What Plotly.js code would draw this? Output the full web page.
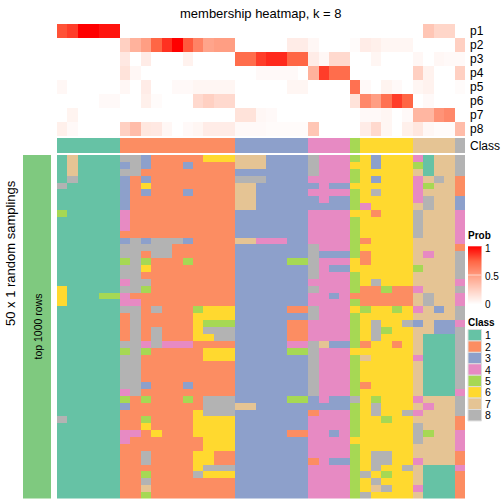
<!DOCTYPE html>
<html><head><meta charset="utf-8">
<script src="https://cdn.plot.ly/plotly-3.0.1.min.js"></script>
<style>html,body{margin:0;padding:0;background:#fff;}#chart{width:504px;height:504px;}</style>
</head><body><div id="chart"></div>
<script>
// ---- data ----
const probLabels = ['p1','p2','p3','p4','p5','p6','p7','p8'];
const p1 = [0.8,0.85,1,1,0.95,0.95, 0,0,0,0,0,0,0,0,0,0,0, 0,0,0,0,0,0,0, 0,0,0,0, 0, 0,0,0,0,0, 0,0.3,0.22,0.22, 0];
const p2 = [0,0,0,0,0,0, 0.25,0.4,0.5,0.75,0.88,1,0.78,0.62,0.47,0.5,0.5, 0,0,0,0,0,0.1,0.1, 0.04,0,0,0, 0.02, 0.1,0.08,0.05,0.05,0.05, 0,0,0,0, 0.25];
const p3 = [0,0,0,0,0,0, 0.12,0,0.1,0,0,0,0.07,0,0,0,0, 0.72,0.72,0.85,0.9,0.9,0.75,0.75, 0.1,0.04,0.2,0.2, 0, 0,0.05,0,0,0, 0.04,0,0.04,0.03, 0.03];
const p4 = [0,0,0,0,0,0, 0.15,0.04,0,0,0,0,0,0,0,0,0, 0,0,0.03,0.03,0.03,0.03,0, 0.4,0.85,0.72,0.72, 0, 0,0,0,0,0, 0.25,0.07,0,0, 0.25];
const p5 = [0.04,0,0,0,0,0, 0.04,0,0.1,0,0,0.03,0.03,0.05,0.05,0.05,0.05, 0,0,0,0,0,0.05,0.05, 0,0,0,0, 0.7, 0.03,0,0.06,0.03,0, 0.05,0.07,0,0, 0.02];
const p6 = [0,0,0,0,0.03,0.03, 0,0,0.08,0.02,0,0,0,0.2,0.25,0.2,0.2, 0,0,0,0,0,0,0, 0,0,0,0, 0.15, 0.6,0.5,0.7,0.85,0.75, 0,0.03,0,0, 0];
const p7 = [0,0.06,0,0,0,0, 0,0,0,0,0,0,0,0,0,0,0, 0.15,0.15,0.04,0.03,0,0,0, 0,0,0,0, 0, 0.03,0.03,0.05,0,0.03, 0.38,0.38,0.55,0.6, 0];
const p8 = [0.08,0.03,0,0,0,0, 0.25,0.35,0.13,0.12,0.04,0,0.03,0.05,0.1,0.1,0.1, 0.03,0.03,0.03,0.02,0.02,0.02,0.02, 0.3,0,0,0, 0, 0.1,0.2,0.05,0,0.08, 0.13,0.04,0.02,0.02, 0.35];
const columnClass = [1,1,1,1,1,1, 2,2,2,2,2,2,2,2,2,2,2, 3,3,3,3,3,3,3, 4,4,4,4, 5, 6,6,6,6,6, 7,7,7,7, 8];
const classLabels = ['1','2','3','4','5','6','7','8'];
const classColors = ['#66C2A5','#FC8D62','#8DA0CB','#E78AC3','#A6D854','#FFD92F','#E5C494','#B3B3B3'];
const samplingRows = [
[1,7,1,1,1,1, 8,8,3,2,2,2,2,2,6,6,6, 7,7,7,3,3,3,3, 8,4,4,4, 5, 6,3,6,6,6, 4,1,7,7, 8],
[1,7,1,1,1,1, 3,8,3,2,2,2,3,2,2,2,2, 7,7,7,3,3,3,3, 8,4,4,4, 6, 6,3,6,6,6, 5,1,7,7, 8],
[1,7,1,1,1,1, 8,8,2,2,2,2,2,2,2,2,2, 3,3,3,3,3,3,3, 8,4,4,4, 5, 6,6,6,6,6, 7,1,7,7, 8],
[1,8,1,1,1,1, 3,2,3,2,2,2,2,2,2,2,2, 8,8,8,3,3,3,3, 4,4,4,4, 5, 6,3,6,6,6, 4,7,8,7, 2],
[8,1,1,1,1,1, 3,2,6,2,2,2,2,2,2,2,2, 7,7,3,3,3,3,3, 3,4,3,3, 6, 6,6,6,6,6, 4,5,7,7, 2],
[1,1,1,1,1,1, 3,2,3,2,2,2,3,2,2,2,2, 7,7,3,3,3,3,3, 4,4,4,4, 5, 6,8,6,6,6, 4,7,7,7, 2],
[1,1,1,1,1,1, 3,2,2,2,2,2,2,2,2,2,2, 7,7,3,3,3,3,3, 3,4,3,3, 5, 6,6,6,6,6, 4,8,7,7, 3],
[1,1,1,1,1,1, 3,2,2,2,2,2,2,2,2,2,2, 7,7,3,3,3,3,3, 3,3,3,3, 5, 4,6,6,6,6, 7,8,7,7, 3],
[5,1,1,1,1,1, 4,2,2,2,2,2,2,2,2,2,2, 3,3,3,3,3,3,3, 4,4,4,4, 6, 6,2,6,6,6, 8,7,7,7, 4],
[1,1,1,1,1,1, 4,2,2,2,2,2,2,2,2,2,2, 3,3,3,3,3,3,3, 4,4,4,4, 5, 6,6,6,6,6, 8,7,7,7, 4],
[1,1,1,1,1,1, 4,2,2,2,2,2,2,2,2,2,2, 3,3,3,3,3,3,3, 4,4,4,4, 5, 6,6,6,6,6, 8,7,7,7, 4],
[1,1,1,1,1,1, 2,2,2,2,2,2,2,2,2,2,2, 3,3,3,3,3,3,3, 4,4,4,4, 5, 6,6,6,6,6, 8,7,7,7, 4],
[1,1,1,1,1,1, 3,8,3,8,8,8,3,2,2,2,2, 7,7,4,4,4,3,3, 4,4,4,4, 5, 2,6,6,6,6, 7,7,7,7, 4],
[1,1,1,1,1,1, 8,8,8,8,8,2,2,2,2,2,2, 3,3,3,3,3,3,3, 8,4,4,4, 5, 6,6,6,6,6, 7,7,7,7, 2],
[1,1,1,1,1,1, 8,8,2,8,8,2,2,2,2,2,2, 3,3,3,3,3,3,3, 8,3,3,3, 5, 2,6,6,6,6, 7,4,7,7, 8],
[1,1,1,1,1,1, 5,8,5,2,2,2,5,2,2,2,2, 3,3,3,3,3,5,5, 8,4,4,4, 6, 2,6,6,6,6, 7,7,7,7, 8],
[1,1,1,1,1,1, 8,8,6,2,2,2,2,2,2,2,2, 3,3,3,3,3,3,3, 8,4,3,3, 6, 6,6,6,6,6, 5,7,7,7, 8],
[1,1,1,1,1,1, 8,8,2,2,2,2,2,2,2,2,2, 3,3,3,3,3,3,3, 8,4,4,4, 5, 6,6,6,6,6, 7,7,7,7, 8],
[1,1,1,1,1,1, 4,8,8,2,2,2,2,2,2,2,2, 3,3,3,3,3,3,3, 4,4,4,4, 5, 6,8,6,6,6, 7,7,7,7, 4],
[6,1,1,1,1,1, 8,8,5,2,2,2,2,2,2,2,2, 3,3,3,3,3,3,3, 8,4,4,4, 5, 2,2,5,2,2, 4,7,7,7, 8],
[6,1,1,1,5,5, 4,2,2,2,2,2,2,2,2,2,2, 3,3,3,3,3,3,3, 4,4,3,4, 2, 2,2,2,2,2, 7,8,7,7, 4],
[6,1,1,1,1,1, 4,4,2,2,2,2,2,2,2,2,2, 3,3,3,3,3,3,3, 4,4,4,4, 5, 2,2,2,2,2, 7,8,7,7, 4],
[1,1,1,1,1,1, 8,8,2,8,2,2,2,5,6,6,6, 3,3,3,3,3,2,2, 8,4,4,4, 6, 5,6,6,5,6, 4,7,3,7, 8],
[1,1,1,1,1,1, 2,8,2,2,2,2,2,6,6,6,6, 3,3,3,3,3,3,3, 8,4,4,4, 5, 6,6,6,6,6, 7,7,7,7, 8],
[1,1,1,1,1,1, 2,8,2,2,2,2,2,6,5,5,5, 3,3,3,3,3,2,2, 4,4,4,4, 5, 6,8,6,6,8, 3,7,3,3, 4],
[1,1,1,1,1,1, 2,8,2,8,2,2,2,6,8,8,8, 3,3,3,3,3,2,2, 4,4,4,4, 5, 6,8,5,6,6, 7,7,3,3, 8],
[1,1,1,1,1,1, 2,8,2,8,2,2,2,6,6,8,8, 3,3,3,3,3,2,2, 4,4,4,4, 5, 6,8,6,6,6, 7,1,1,1, 8],
[1,1,1,1,1,1, 8,8,4,8,4,4,4,2,2,2,2, 3,3,3,3,3,4,4, 8,7,3,3, 5, 2,6,6,2,6, 7,1,1,1, 8],
[1,1,1,1,1,1, 5,8,5,2,2,2,2,2,6,6,6, 3,3,3,3,3,5,5, 8,4,4,4, 6, 6,6,6,6,6, 7,1,1,1, 8],
[1,1,1,1,1,1, 8,8,2,2,2,2,2,2,6,6,6, 3,3,3,3,3,3,3, 8,4,4,4, 5, 7,6,6,6,6, 4,1,1,1, 8],
[1,1,1,1,1,1, 8,8,2,2,2,2,2,2,2,2,2, 3,3,3,3,3,3,3, 8,4,4,4, 5, 6,6,6,6,6, 7,1,1,1, 8],
[1,1,1,1,1,1, 8,8,2,2,2,2,2,2,2,2,2, 3,3,3,3,3,3,3, 8,4,4,4, 5, 6,6,6,6,6, 7,1,1,1, 8],
[1,1,1,1,1,1, 8,8,2,2,2,2,2,2,2,2,2, 3,3,3,3,3,3,3, 8,4,4,4, 5, 6,6,6,6,6, 7,1,1,1, 8],
[1,1,1,1,1,1, 8,8,3,2,2,2,3,2,2,2,2, 3,3,3,3,3,3,3, 8,4,4,4, 5, 2,6,6,6,6, 7,1,1,1, 8],
[1,1,1,1,1,1, 4,8,2,2,2,2,2,2,2,2,2, 3,3,3,3,3,3,3, 8,4,4,4, 5, 6,6,6,6,6, 7,1,1,1, 4],
[1,1,1,1,1,1, 5,2,5,2,2,2,5,2,8,8,8, 3,3,3,3,3,5,5, 3,4,3,3, 8, 6,5,6,6,6, 4,7,7,7, 8],
[1,1,1,1,1,1, 3,2,2,2,2,2,2,2,8,8,8, 7,7,3,3,3,3,3, 3,3,3,3, 5, 6,8,6,6,6, 7,4,7,7, 8],
[1,1,1,1,1,1, 2,2,2,2,2,2,2,6,8,8,8, 3,3,3,3,3,3,3, 2,4,4,4, 5, 6,8,6,6,8, 4,7,7,7, 8],
[8,1,1,1,1,1, 2,2,5,2,2,2,2,6,6,6,6, 3,3,3,3,3,3,3, 4,4,4,4, 5, 6,6,5,6,6, 7,7,7,7, 2],
[1,1,1,1,1,1, 2,2,6,2,2,2,2,6,6,6,6, 3,3,3,3,3,3,3, 4,4,4,4, 5, 6,6,6,6,6, 8,7,7,7, 2],
[1,1,1,1,1,1, 4,4,2,6,2,2,2,6,6,6,6, 3,3,3,3,3,2,2, 4,4,3,4, 5, 6,6,6,6,6, 8,5,7,7, 4],
[1,1,1,1,1,1, 4,2,2,2,2,2,2,2,6,6,6, 3,3,3,3,3,3,3, 4,4,4,4, 6, 6,6,6,6,6, 8,7,7,7, 4],
[1,1,1,1,1,1, 2,2,2,2,2,2,2,2,6,6,6, 3,3,3,3,3,3,3, 4,4,4,4, 5, 6,6,6,6,6, 7,7,7,7, 4],
[1,1,1,1,1,1, 2,2,8,2,2,2,2,6,6,2,2, 3,3,3,3,3,3,3, 4,4,4,4, 5, 6,8,8,6,6, 7,7,7,7, 2],
[1,1,1,1,1,1, 2,2,8,2,2,2,2,6,6,2,2, 3,3,3,3,3,3,3, 2,4,3,3, 5, 6,8,8,6,6, 4,7,7,7, 2],
[1,1,1,1,1,1, 2,2,2,2,2,2,2,6,8,8,8, 3,3,3,3,3,3,3, 4,4,4,4, 5, 6,8,6,6,8, 7,1,1,1, 4],
[1,1,1,1,1,1, 2,2,5,2,2,2,2,8,6,6,6, 3,3,3,3,3,3,3, 4,4,4,4, 5, 8,6,5,6,6, 7,1,1,1, 2],
[1,1,1,1,1,1, 2,2,8,2,2,2,2,2,2,2,2, 3,3,3,3,3,3,3, 4,4,4,4, 5, 6,8,6,6,6, 7,1,1,1, 2],
[1,1,1,1,1,1, 2,2,7,2,2,2,2,2,2,2,2, 3,3,3,3,3,3,3, 4,4,4,4, 5, 6,7,8,6,6, 4,1,1,1, 2],
[1,1,1,1,1,1, 2,2,5,2,2,2,2,2,2,2,2, 3,3,3,3,3,3,3, 4,4,4,4, 5, 8,6,6,6,6, 7,1,1,1, 2]
];
const chartTitle = 'membership heatmap, k = 8';
const rowTitle = '50 x 1 random samplings';
const rowGroupLabel = 'top 1000 rows';
const probTicks = [0, 0.5, 1];

// ---- layout helpers ----
const W = 504, H = 504;
const px = x => x / W;
const py = y => 1 - y / H;
const FONT = 'Liberation Sans, Arial, sans-serif';

const nCol = columnClass.length;
const colIdx = columnClass.map((_, i) => i);
const probMatrix = [p1, p2, p3, p4, p5, p6, p7, p8];

const probScale = [[0,'#FFFFFF'],[0.25,'#FFD0C2'],[0.5,'#FF9E83'],[0.75,'#FF6645'],[1,'#FF0000']];
const classScale = [];
classColors.forEach((c, k) => { classScale.push([k/8, c]); classScale.push([(k+1)/8, c]); });

const traces = [
  { type:'heatmap', z: probMatrix, x: colIdx, y: probLabels.map((_, i) => i),
    xaxis:'x', yaxis:'y', colorscale: probScale, zmin:0, zmax:1, showscale:false, hoverinfo:'skip' },
  { type:'heatmap', z: [columnClass], x: colIdx, y: [0],
    xaxis:'x', yaxis:'y2', colorscale: classScale, zmin:0.5, zmax:8.5, showscale:false, hoverinfo:'skip' },
  { type:'heatmap', z: samplingRows, x: colIdx, y: samplingRows.map((_, i) => i),
    xaxis:'x', yaxis:'y3', colorscale: classScale, zmin:0.5, zmax:8.5, showscale:false, hoverinfo:'skip' }
];
// gradient for the Prob legend
const gradN = 60;
const gradY = [], gradZ = [];
for (let i = 0; i < gradN; i++) { const v = i/(gradN-1); gradY.push(v); gradZ.push([v]); }
traces.push({ type:'heatmap', z: gradZ, x:[0], y: gradY, xaxis:'x2', yaxis:'y4',
  colorscale: probScale, zmin:0, zmax:1, showscale:false, zsmooth:'best', hoverinfo:'skip' });

const annotations = [];
const shapes = [];
annotations.push({ text: chartTitle, xref:'paper', yref:'paper', x: px(261), y: py(13),
  xanchor:'center', yanchor:'middle', showarrow:false, font:{family:FONT, size:13, color:'#000'} });
probLabels.forEach((lab, i) => annotations.push({ text: lab, xref:'paper', yref:'y', x: px(468), y: i,
  xanchor:'left', yanchor:'middle', showarrow:false, font:{family:FONT, size:12, color:'#000'} }));
annotations.push({ text:'Class', xref:'paper', yref:'y2', x: px(468), y: 0,
  xanchor:'left', yanchor:'middle', showarrow:false, font:{family:FONT, size:12, color:'#000'} });
annotations.push({ text: rowTitle, xref:'paper', yref:'paper', x: px(10), y: py(253), textangle:-90,
  xanchor:'center', yanchor:'middle', showarrow:false, font:{family:FONT, size:13, color:'#000'} });
shapes.push({ type:'rect', xref:'paper', yref:'paper', x0: px(23), x1: px(51), y0: py(498.5), y1: py(155),
  fillcolor:'#7FC97F', line:{width:0} });
annotations.push({ text: rowGroupLabel, xref:'paper', yref:'paper', x: px(37.5), y: py(327), textangle:-90,
  xanchor:'center', yanchor:'middle', showarrow:false, font:{family:FONT, size:10.5, color:'#000'} });

// Prob legend
annotations.push({ text:'<b>Prob</b>', xref:'paper', yref:'paper', x: px(467), y: py(235.5),
  xanchor:'left', yanchor:'middle', showarrow:false, borderpad:0, font:{family:FONT, size:10, color:'#000'} });
const tickPix = {0: 304.5, 0.5: 276, 1: 248};
probTicks.forEach(t => {
  annotations.push({ text: String(t), xref:'paper', yref:'paper', x: px(484), y: py(tickPix[t]),
    xanchor:'left', yanchor:'middle', showarrow:false, borderpad:0, font:{family:FONT, size:10, color:'#000'} });
  if (t > 0) shapes.push({ type:'line', xref:'x2', yref:'y4', x0:-0.5, x1:0.5, y0:t, y1:t,
    line:{color:'rgba(255,255,255,0.6)', width:1} });
});

// Class legend
annotations.push({ text:'<b>Class</b>', xref:'paper', yref:'paper', x: px(467), y: py(322),
  xanchor:'left', yanchor:'middle', showarrow:false, borderpad:0, font:{family:FONT, size:10, color:'#000'} });
const legTop = 329.5, legStep = 11.43;
classLabels.forEach((lab, k) => {
  const y0 = legTop + k*legStep;
  shapes.push({ type:'rect', xref:'paper', yref:'paper', x0: px(468), x1: px(481.5),
    y0: py(y0 + legStep), y1: py(y0), fillcolor: classColors[k], line:{color:'#DDDDDD', width:1} });
  annotations.push({ text: lab, xref:'paper', yref:'paper', x: px(484), y: py(y0 + legStep/2),
    xanchor:'left', yanchor:'middle', showarrow:false, borderpad:0, font:{family:FONT, size:10.5, color:'#000'} });
});

const layout = {
  width: W, height: H, margin:{l:0, r:0, t:0, b:0},
  paper_bgcolor:'#FFFFFF', plot_bgcolor:'rgba(0,0,0,0)', showlegend:false,
  font:{family:FONT},
  xaxis:{ domain:[px(57), px(465)], range:[-0.5, nCol-0.5], visible:false, fixedrange:true },
  yaxis:{ domain:[py(136), py(24)], range:[7.5, -0.5], visible:false, anchor:'x', fixedrange:true },
  yaxis2:{ domain:[py(153), py(138)], range:[0.5, -0.5], visible:false, anchor:'x', fixedrange:true },
  yaxis3:{ domain:[py(498.5), py(155)], range:[samplingRows.length-0.5, -0.5], visible:false, anchor:'x', fixedrange:true },
  xaxis2:{ domain:[px(468), px(481.5)], range:[-0.5, 0.5], visible:false, anchor:'y4', fixedrange:true },
  yaxis4:{ domain:[py(304), py(246)], range:[0, 1], visible:false, anchor:'x2', fixedrange:true },
  annotations, shapes
};

Plotly.newPlot('chart', traces, layout, {staticPlot:true, displayModeBar:false});
</script>
</body></html>
